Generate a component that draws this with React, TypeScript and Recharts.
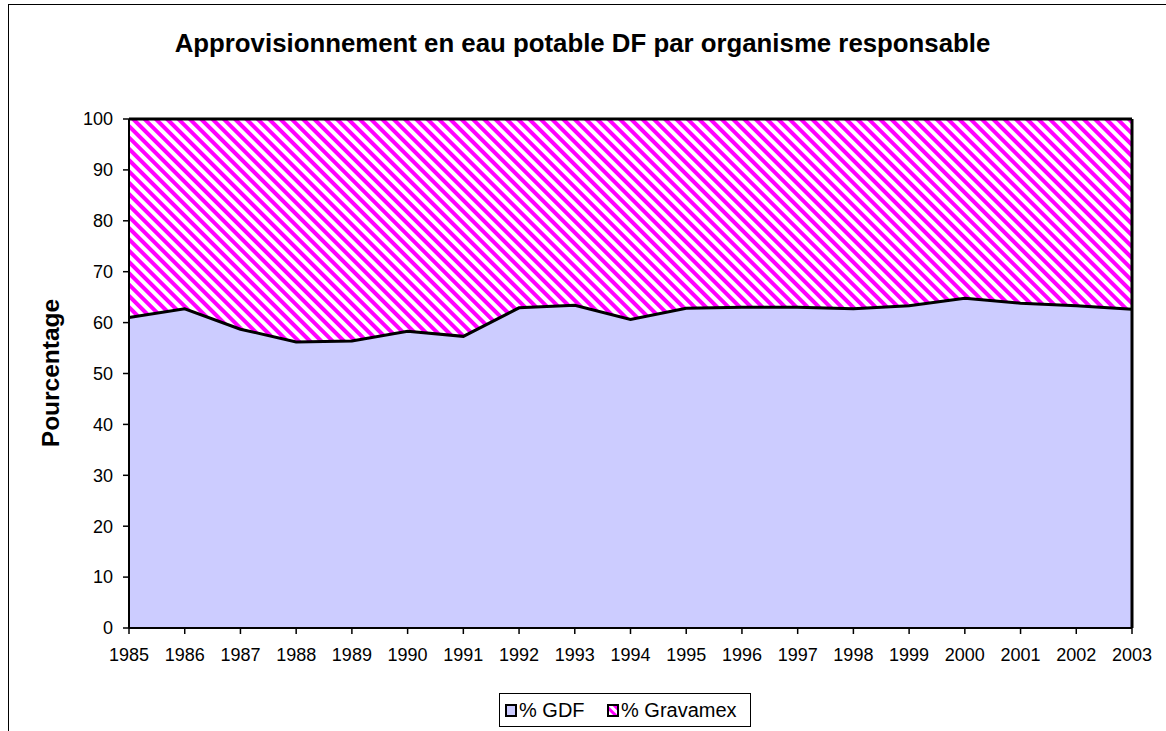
import React from 'react';
import { ComposedChart, Area, Line, XAxis, YAxis, ReferenceLine } from 'recharts';

const years = ['1985','1986','1987','1988','1989','1990','1991','1992','1993','1994','1995','1996','1997','1998','1999','2000','2001','2002','2003'];
const gdf = [61.0, 62.7, 58.7, 56.2, 56.4, 58.3, 57.3, 62.9, 63.4, 60.6, 62.8, 63.0, 63.0, 62.7, 63.3, 64.8, 63.8, 63.3, 62.6];
const gravamex = gdf.map((v) => +(100 - v).toFixed(1));
const yTicks = [0, 10, 20, 30, 40, 50, 60, 70, 80, 90, 100];

const data = years.map((y, i) => ({ year: y, gdf: gdf[i], gravamex: gravamex[i] }));

const FONT = '"Liberation Sans", Arial, sans-serif';

export default function App() {
  return (
    <div style={{ position: 'fixed', left: 0, top: 0, width: 1166, height: 731, overflow: 'hidden', background: '#fff' }}>
      <div style={{ position: 'absolute', left: 8, top: 4, width: 1300, height: 900, border: '1px solid #000', boxSizing: 'border-box' }} />
      <div style={{ position: 'absolute', left: 0, top: 29, width: 1165, textAlign: 'center', fontFamily: FONT, fontWeight: 'bold', fontSize: 25.8, color: '#000', whiteSpace: 'nowrap' }}>
        Approvisionnement en eau potable DF par organisme responsable
      </div>
      <div style={{ position: 'absolute', left: 0, top: 0 }}>
        <ComposedChart width={1166} height={731} data={data} margin={{ top: 119, right: 34, left: 69, bottom: 73 }}>
          <defs>
            <pattern id="hatch" patternUnits="userSpaceOnUse" width="8" height="8" patternTransform="rotate(-45)">
              <rect width="8" height="8" fill="#fff" />
              <rect width="4" height="8" fill="#FF00FF" />
            </pattern>
          </defs>
          <XAxis dataKey="year" interval={0} tickSize={6} tickMargin={14} stroke="#000" tick={{ fill: '#000', fontSize: 18, fontFamily: FONT }} height={30} axisLine={{ stroke: '#000', strokeWidth: 2 }} tickLine={{ stroke: '#000', strokeWidth: 1.5 }} />
          <YAxis domain={[0, 100]} ticks={yTicks} interval={0} width={60} tickSize={6} tickMargin={10} stroke="#000" tick={{ fill: '#000', fontSize: 18, fontFamily: FONT }} axisLine={{ stroke: '#000', strokeWidth: 2 }} tickLine={{ stroke: '#000', strokeWidth: 1.5 }} />
          <Area type="linear" dataKey="gdf" stackId="a" fill="#CCCCFF" fillOpacity={1} stroke="none" isAnimationActive={false} dot={false} activeDot={false} />
          <Area type="linear" dataKey="gravamex" stackId="a" fill="url(#hatch)" fillOpacity={1} stroke="#000" strokeWidth={3} isAnimationActive={false} dot={false} activeDot={false} />
          <Line type="linear" dataKey="gdf" stroke="#000" strokeWidth={3} dot={false} activeDot={false} isAnimationActive={false} legendType="none" />
          <ReferenceLine x="2003" stroke="#000" strokeWidth={3} />
        </ComposedChart>
      </div>
      <svg width={1166} height={731} style={{ position: 'absolute', left: 0, top: 0, pointerEvents: 'none' }}>
        <defs>
          <pattern id="hatchLegend" patternUnits="userSpaceOnUse" width="6" height="6" patternTransform="rotate(-45)">
            <rect width="6" height="6" fill="#fff" />
            <rect width="3" height="6" fill="#FF00FF" />
          </pattern>
        </defs>
        <text x={59} y={373} transform="rotate(-90 59 373)" textAnchor="middle" fontFamily={FONT} fontWeight="bold" fontSize={24.5} fill="#000">Pourcentage</text>
        <rect x={499.5} y={693.5} width={251} height={33} fill="#fff" stroke="#000" strokeWidth={1} />
        <rect x={506} y={705} width={10} height={11} fill="#CCCCFF" stroke="#000" strokeWidth={2} />
        <text x={519} y={717} fontFamily={FONT} fontSize={20} fill="#000">% GDF</text>
        <rect x={608} y={705} width={10} height={11} fill="url(#hatchLegend)" stroke="#000" strokeWidth={2} />
        <text x={621} y={717} fontFamily={FONT} fontSize={20} fill="#000">% Gravamex</text>
      </svg>
    </div>
  );
}
